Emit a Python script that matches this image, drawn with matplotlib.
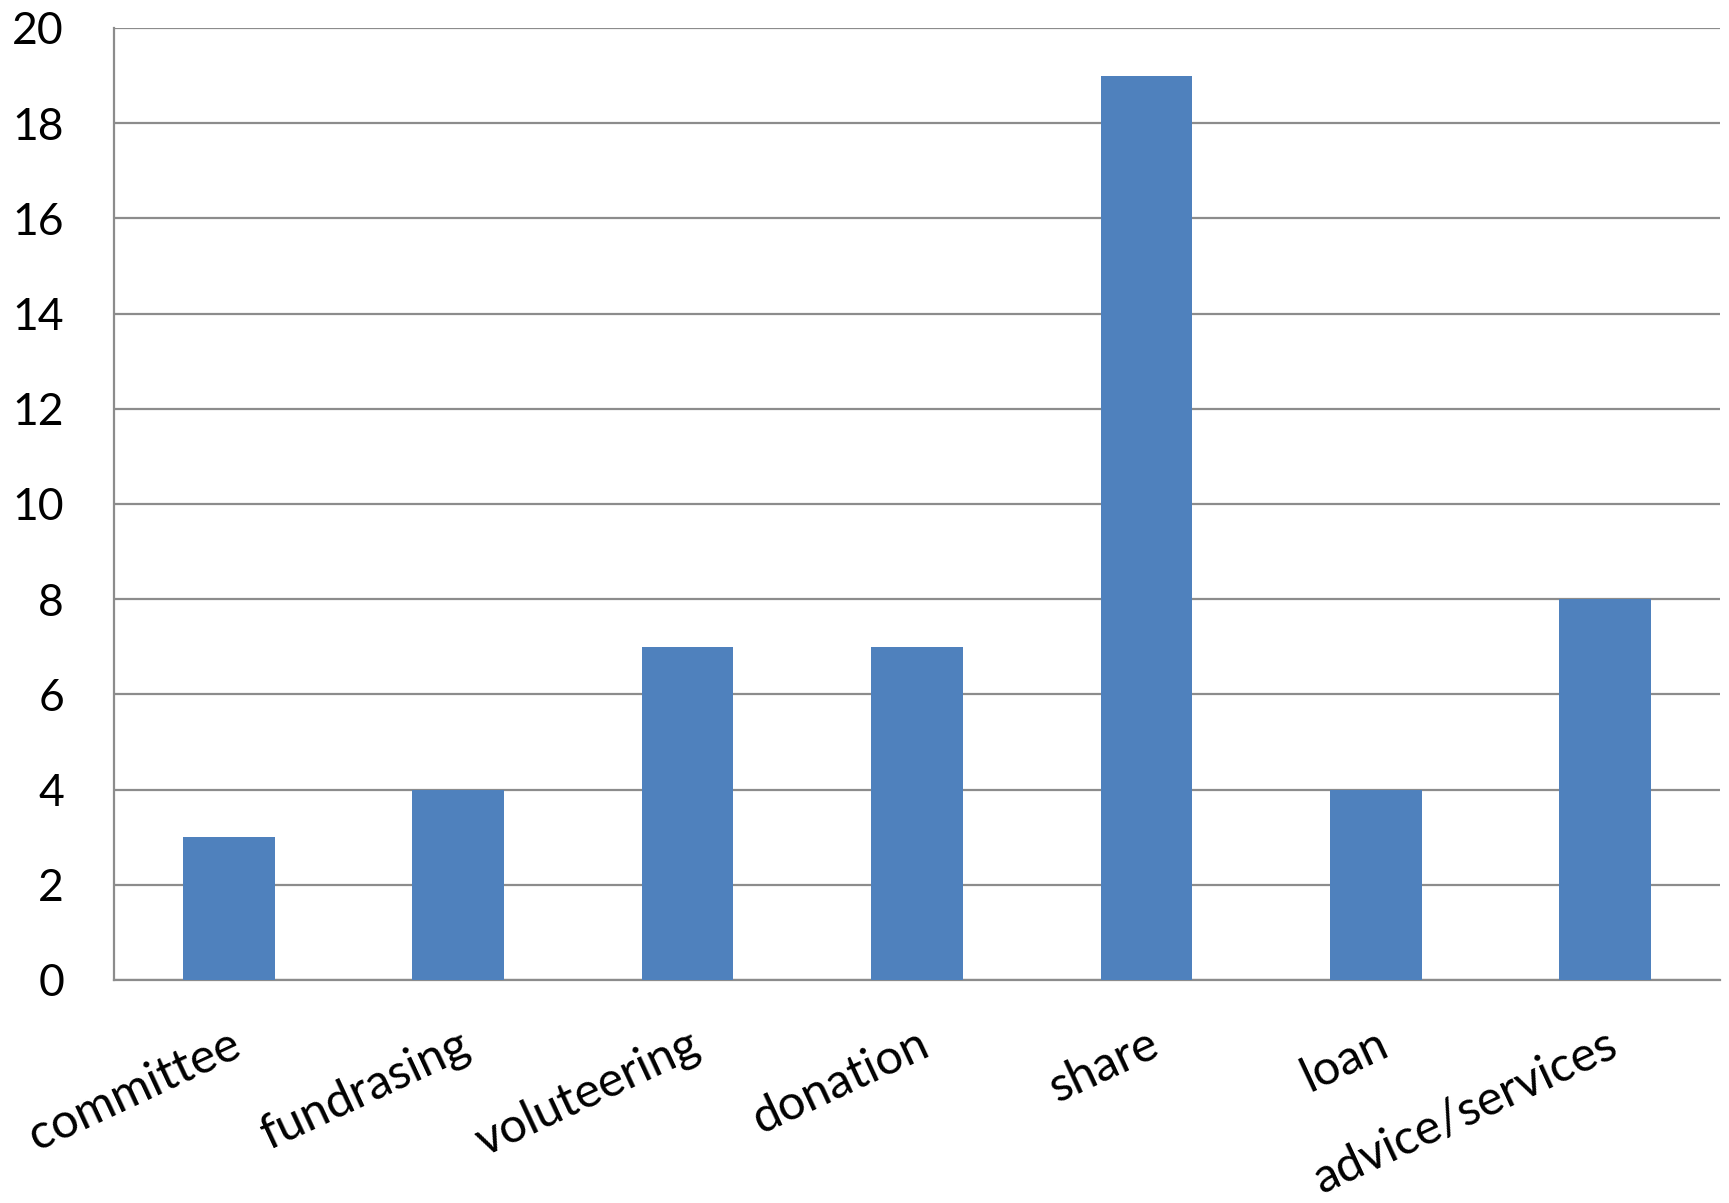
import matplotlib
matplotlib.use("Agg")
import matplotlib.pyplot as plt
from matplotlib.transforms import ScaledTranslation

categories = ["committee", "fundrasing", "voluteering", "donation", "share", "loan", "advice/services"]
values = [3, 4, 7, 7, 19, 4, 8]
yticks = [0, 2, 4, 6, 8, 10, 12, 14, 16, 18, 20]

plt.rcParams['font.family'] = ['Lato', 'DejaVu Sans']

fig = plt.figure(figsize=(17.29, 12.03), dpi=100)
ax = fig.add_axes([114/1729, 1 - 980/1203, (1720-114)/1729, (980-28)/1203])

x = list(range(len(categories)))
ax.bar(x, values, width=0.4, color="#4F81BD", zorder=3)
ax.set_xlim(-0.5, len(categories) - 0.5)
ax.set_ylim(0, 20)
ax.set_yticks(yticks)
ax.set_yticklabels([str(t) for t in yticks], fontsize=32)
ax.set_xticks(x)
ax.set_xticklabels(categories, fontsize=35, rotation=25, ha='right', rotation_mode='anchor')
offset = ScaledTranslation(-0.08, 0, fig.dpi_scale_trans)
for lbl in ax.get_xticklabels():
    lbl.set_transform(lbl.get_transform() + offset)

ax.grid(axis='y', color='#8C8C8C', linewidth=1.6, zorder=0)
ax.set_axisbelow(True)
for s in ['top', 'right']:
    ax.spines[s].set_visible(False)
for s in ['left', 'bottom']:
    ax.spines[s].set_color('#8C8C8C')
    ax.spines[s].set_linewidth(1.6)
ax.tick_params(axis='y', length=0, pad=36)
ax.tick_params(axis='x', length=0, pad=30)

fig.savefig("out.png", dpi=100)
